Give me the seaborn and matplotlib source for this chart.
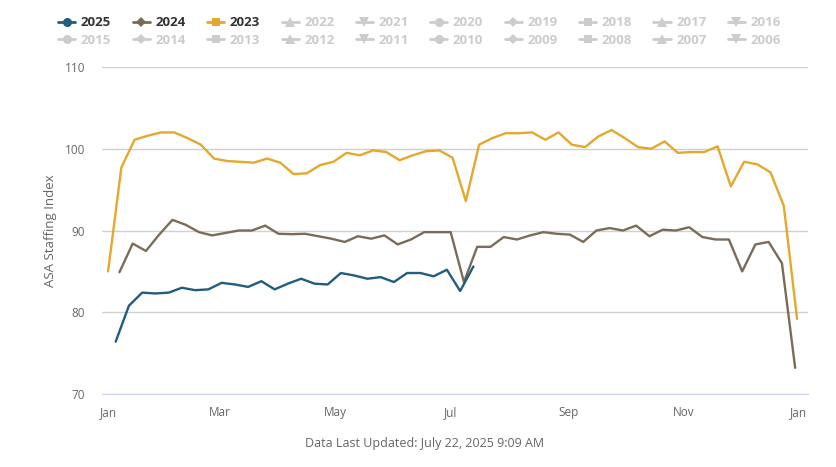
import matplotlib
matplotlib.use('Agg')
import numpy as np
import pandas as pd
import matplotlib.pyplot as plt
from matplotlib.lines import Line2D
import seaborn as sns

# weekly (Sunday) readings of the ASA Staffing Index
start_2025 = '2025-01-05'
start_2024 = '2024-01-07'
start_2023 = '2023-01-01'

vals_2025 = [76.4, 80.8, 82.4, 82.3, 82.4, 83.0, 82.7, 82.8, 83.6, 83.4,
             83.1, 83.8, 82.8, 83.5, 84.1, 83.5, 83.4, 84.8, 84.5, 84.1,
             84.3, 83.7, 84.8, 84.8, 84.4, 85.2, 82.6, 85.6]

vals_2024 = [84.9, 88.4, 87.5, 89.5, 91.3, 90.7, 89.8, 89.4, 89.7, 90.0,
             90.0, 90.6, 89.6, 89.55, 89.6, 89.3, 89.0, 88.6, 89.3, 89.0,
             89.4, 88.3, 88.9, 89.8, 89.8, 89.8, 83.7, 88.0, 88.0, 89.2,
             88.9, 89.4, 89.8, 89.6, 89.5, 88.6, 90.0, 90.3, 90.0, 90.6,
             89.3, 90.1, 90.0, 90.4, 89.2, 88.9, 88.9, 85.0, 88.3, 88.6,
             86.0, 73.2]

vals_2023 = [85.0, 97.7, 101.1, 101.6, 102.0, 102.0, 101.3, 100.5, 98.8, 98.5,
             98.4, 98.3, 98.8, 98.3, 96.9, 97.0, 98.0, 98.4, 99.5, 99.2,
             99.8, 99.6, 98.6, 99.2, 99.7, 99.8, 98.9, 93.6, 100.5, 101.3,
             101.9, 101.9, 102.0, 101.1, 102.0, 100.5, 100.2, 101.5, 102.3, 101.3,
             100.2, 100.0, 100.9, 99.5, 99.6, 99.6, 100.3, 95.4, 98.4, 98.1,
             97.1, 93.0, 79.2]

month_labels = ['Jan', 'Mar', 'May', 'Jul', 'Sep', 'Nov', 'Jan']
month_days = [0, 59, 120, 181, 243, 304, 365]
y_ticks = [70, 80, 90, 100, 110]
legend_years = list(range(2025, 2005, -1))
year_colors = {2025: '#215d7e', 2024: '#7b6c59', 2023: '#e5a82c'}
marker_cycle = ['o', 'D', 's', '^', 'v']


def weekly_frame(start, vals, year):
    dates = pd.date_range(start, periods=len(vals), freq='7D')
    day = (dates - pd.Timestamp(year=year, month=1, day=1)).days
    return pd.DataFrame({'day': day, 'value': vals, 'year': year})


df = pd.concat([
    weekly_frame(start_2023, vals_2023, 2023),
    weekly_frame(start_2024, vals_2024, 2024),
    weekly_frame(start_2025, vals_2025, 2025),
], ignore_index=True)

sns.set_style('white')
plt.rcParams['font.family'] = ['Open Sans', 'DejaVu Sans']

fig = plt.figure(figsize=(8.37, 4.67), dpi=100)
ax = fig.add_axes([0.1219, 0.1563, 0.8435, 0.7002])

for i, yr in enumerate([2023, 2024, 2025]):
    sub = df[df['year'] == yr]
    sns.lineplot(data=sub, x='day', y='value', color=year_colors[yr], lw=1.7,
                 ax=ax, legend=False, zorder=3 + i,
                 solid_joinstyle='round', solid_capstyle='round')

ax.set_xlim(-3.2, 369.8)
ax.set_ylim(70, 110)
ax.set_xticks(month_days)
ax.set_xticklabels(month_labels)
ax.set_yticks(y_ticks)
ax.yaxis.grid(True, color='#d0d0d0', lw=1)
ax.xaxis.grid(False)
for s in ['top', 'right', 'left']:
    ax.spines[s].set_visible(False)
ax.spines['bottom'].set_color('#ccd6eb')
ax.spines['bottom'].set_zorder(6)
ax.tick_params(axis='x', length=7.2, width=1, color='#ccd6eb',
               labelsize=8.5, labelcolor='#666666', pad=1.5)
ax.tick_params(axis='y', length=0, pad=12, labelsize=8.5, labelcolor='#666666')
ax.set_xlabel('')
ax.set_ylabel('ASA Staffing Index', fontsize=9.5, color='#666666', labelpad=6)

# legend: two rows, row-major like the original
handles, labels = [], []
for i, yr in enumerate(legend_years):
    c = year_colors.get(yr, '#cccccc')
    m = marker_cycle[i % 5]
    ms = {'o': 6.5, 'D': 5, 's': 6, 'v': 6.5, '^': 6.5}[m]
    handles.append(Line2D([], [], color=c, lw=2, marker=m, markersize=ms,
                          markeredgewidth=0))
    labels.append(str(yr))
order = []
for j in range(10):
    order += [j, j + 10]
leg = fig.legend([handles[k] for k in order], [labels[k] for k in order],
                 loc='upper left', bbox_to_anchor=(0.0695, 0.965), ncol=10,
                 frameon=False, borderpad=0, borderaxespad=0,
                 handlelength=1.3, handletextpad=0.42, columnspacing=1.62,
                 labelspacing=0.36,
                 prop={'family': 'Open Sans', 'weight': 'bold', 'size': 9.5})
for t in leg.get_texts():
    t.set_color('#333333' if int(t.get_text()) in year_colors else '#cccccc')

fig.text(425 / 837, 1 - 443 / 467, 'Data Last Updated: July 22, 2025 9:09 AM',
         ha='center', va='center', fontsize=9, color='#666666')

fig.savefig('out.png', dpi=100)
